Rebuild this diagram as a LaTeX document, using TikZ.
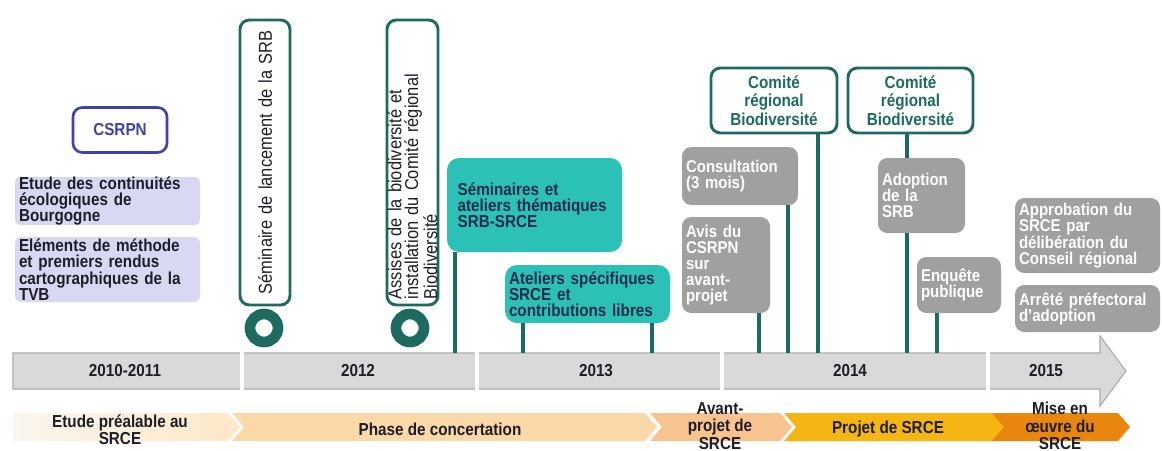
\documentclass[tikz,border=0pt]{standalone}
\usepackage{fontspec}
\setmainfont[FakeStretch=0.88]{Liberation Sans}
\definecolor{tealdark}{RGB}{29,107,96}
\definecolor{turq}{RGB}{44,193,183}
\definecolor{navytxt}{RGB}{30,45,75}
\definecolor{greybox}{RGB}{160,160,160}
\definecolor{lavender}{RGB}{216,216,242}
\definecolor{csrpnblue}{RGB}{64,64,176}
\definecolor{darktxt}{RGB}{30,30,40}
\definecolor{barfill}{RGB}{217,217,217}
\definecolor{barline}{RGB}{170,170,170}
\definecolor{chA}{RGB}{253,232,198}
\definecolor{chAl}{RGB}{250,246,238}
\definecolor{chB}{RGB}{250,216,168}
\definecolor{chC}{RGB}{247,196,143}
\definecolor{chD}{RGB}{245,181,18}
\definecolor{chE}{RGB}{232,134,14}
\newcommand\bx[7]{%
  \pgfmathsetmacro\bxw{(#4-#2)*0.75}%
  \pgfmathsetmacro\bxh{(#5-#3)*0.75}%
  \pgfmathsetmacro\bxt{(#4-#2)*0.75-6}%
  \node[#6, minimum width=\bxw pt, minimum height=\bxh pt, text width=\bxt pt] (#1) at ({(#2+#4)/2},{(#3+#5)/2}) {#7};}
\begin{document}
\begin{tikzpicture}[x=0.75pt,y=-0.75pt,
  base/.style={inner xsep=3pt, inner ysep=0pt, font=\bfseries\fontsize{13}{12}\selectfont},
  lav/.style={base, fill=lavender, rounded corners=4pt, align=left, text=darktxt},
  csrpn/.style={base, draw=csrpnblue, line width=2pt, fill=white, rounded corners=7pt, align=center, text=csrpnblue},
  teal/.style={base, fill=turq, rounded corners=9pt, align=left, text=navytxt},
  grey/.style={base, fill=greybox, rounded corners=7pt, align=left, text=white, font=\bfseries\fontsize{12.8}{12}\selectfont},
  comite/.style={base, draw=tealdark, line width=2.2pt, fill=white, rounded corners=7pt, align=center, text=tealdark, font=\bfseries\fontsize{13}{13.8}\selectfont},
  vbox/.style={draw=tealdark, line width=2.2pt, fill=white, rounded corners=7pt, rotate=90, inner xsep=4pt, inner ysep=0pt, text=darktxt, font=\fontsize{14}{12.6}\selectfont},
  ring/.style={circle, draw=tealdark, line width=8pt, minimum size=21pt, inner sep=0pt},
  conn/.style={draw=tealdark, line width=3pt},
  year/.style={font=\bfseries\fontsize{13}{12}\selectfont, text=darktxt, inner sep=1pt},
  phase/.style={font=\bfseries\fontsize{13}{11.5}\selectfont, text=darktxt, align=center, inner sep=0pt},
  phase3/.style={phase, font=\bfseries\fontsize{13}{13.2}\selectfont}
]
\useasboundingbox (0,0) rectangle (1162,450);

% timeline bar
\filldraw[fill=barfill, draw=barline, line width=0.8pt] (13,353) -- (1100,353) -- (1100,336) -- (1126,371) -- (1100,406) -- (1100,389) -- (13,389) -- cycle;
\foreach \x in {242,477,722,988} \draw[white, line width=3pt] (\x,348) -- (\x,394);
\node[year] (y1) at (125,371) {2010-2011};
\node[year] (y2) at (358,371) {2012};
\node[year] (y3) at (596,371) {2013};
\node[year] (y4) at (850,371) {2014};
\node[year] (y5) at (1046,371) {2015};
\coordinate (bartop) at (0,353);

% phase chevrons
\shade[left color=chAl, right color=chA] (13,413) -- (228,413) -- (240,427) -- (228,441) -- (13,441) -- cycle;
\fill[chB] (232,413) -- (645,413) -- (657,427) -- (645,441) -- (232,441) -- (244,427) -- cycle;
\fill[chC] (650,413) -- (780,413) -- (792,427) -- (780,441) -- (650,441) -- (662,427) -- cycle;
\fill[chD] (784,413) -- (993,413) -- (1005,427) -- (993,441) -- (784,441) -- (796,427) -- cycle;
\fill[chE] (992,413) -- (1118,413) -- (1130,427) -- (1118,441) -- (992,441) -- (1004,427) -- cycle;
\node[phase] (p1) at (120,430) {Etude préalable au\\SRCE};
\node[phase] (p2) at (440,429) {Phase de concertation};
\node[phase3] (p3) at (720,426) {Avant-\\projet de\\SRCE};
\node[phase] (p4) at (888,429) {Projet de SRCE};
\node[phase3] (p5) at (1060,426) {Mise en\\œuvre du\\SRCE};

% left boxes
\node[csrpn, minimum width=70.5pt, minimum height=33.75pt] (csrpn) at (120,130) {CSRPN};
\bx{etude}{15}{177}{200}{225}{lav}{Etude des continuités\\écologiques de\\Bourgogne}
\bx{elem}{15}{237}{200}{302}{lav}{Eléments de méthode\\et premiers rendus\\cartographiques de la\\TVB}

% vertical boxes and rings
\node[vbox, minimum width=213.75pt, minimum height=37.5pt, text width=205pt, align=center] (semlanc) at (265,162.5) {Séminaire de lancement de la SRB};
\node[vbox, minimum width=213.75pt, minimum height=38.25pt, text width=205pt, align=left] (assises) at (412.5,162.5) {Assises de la biodiversité et\\installation du Comité régional\\Biodiversité};
\node[ring] (ring1) at (264,328) {};
\node[ring] (ring2) at (410,328) {};

% teal boxes
\bx{sem}{447}{158}{622}{252}{teal}{\hspace*{5pt}Séminaires et\\\hspace*{5pt}ateliers thématiques\\\hspace*{5pt}SRB-SRCE}
\bx{atel}{505}{265}{670}{323}{teal}{Ateliers spécifiques\\SRCE et\\contributions libres}

% 2014 boxes
\bx{com1}{711}{68}{837}{133}{comite}{Comité\\régional\\Biodiversité}
\bx{com2}{848}{68}{973}{133}{comite}{Comité\\régional\\Biodiversité}
\bx{cons}{682}{147}{798}{205}{grey}{Consultation\\(3 mois)}
\bx{avis}{682}{217}{770}{313}{grey}{Avis du\\CSRPN\\sur\\avant-\\projet}
\bx{adop}{878}{158}{965}{233}{grey}{Adoption\\de la\\SRB}
\bx{enq}{917}{257}{1001}{313}{grey}{Enquête\\publique}
\bx{appr}{1015}{198}{1160}{273}{grey}{Approbation du\\SRCE par\\délibération du\\Conseil régional}
\bx{arr}{1015}{285}{1160}{332}{grey}{Arrêté préfectoral\\d'adoption}

% connectors
\coordinate (xa) at (455,0);
\coordinate (xb) at (523,0);
\coordinate (xc) at (652,0);
\coordinate (xd) at (759,0);
\coordinate (xe) at (788,0);
\coordinate (xf) at (818,0);
\coordinate (xg) at (907,0);
\coordinate (xh) at (937,0);
\draw[conn] (sem.south -| xa) -- (bartop -| xa);
\draw[conn] (atel.south -| xb) -- (bartop -| xb);
\draw[conn] (atel.south -| xc) -- (bartop -| xc);
\draw[conn] (avis.south -| xd) -- (bartop -| xd);
\draw[conn] (cons.south -| xe) -- (bartop -| xe);
\draw[conn] (com1.south -| xf) -- (bartop -| xf);
\draw[conn] (com2.south -| xg) -- (adop.north -| xg);
\draw[conn] (adop.south -| xg) -- (bartop -| xg);
\draw[conn] (enq.south -| xh) -- (bartop -| xh);
\end{tikzpicture}
\end{document}
